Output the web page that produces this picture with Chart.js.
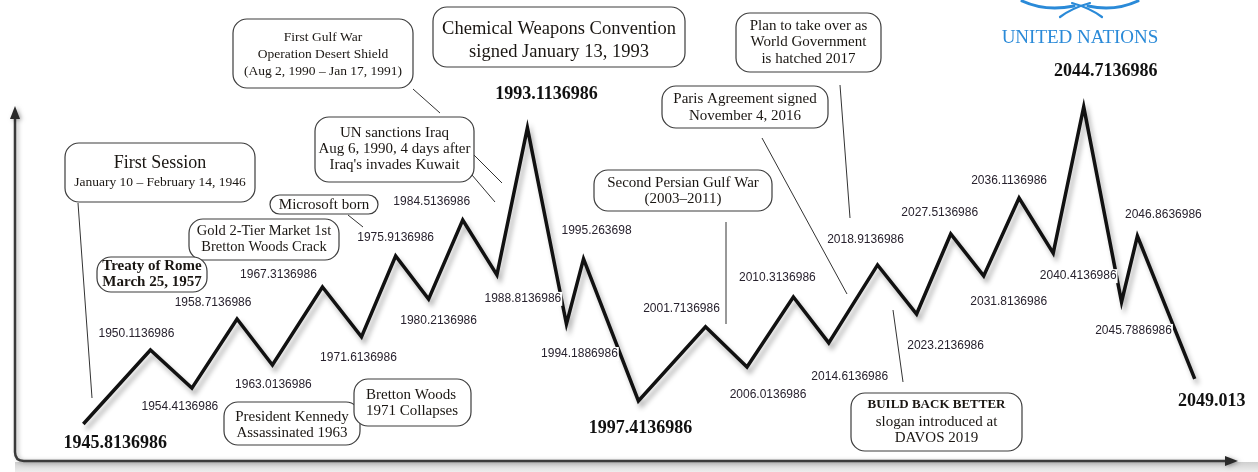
<!DOCTYPE html>
<html lang="en">
  <head>
    <meta charset="UTF-8" />
    <title>UN timeline</title>
    <script src="https://cdn.jsdelivr.net/npm/chart.js"></script>
    <style>
      body {
        margin: 0;
        background: #fff;
      }
    </style>
  </head>
  <body>
    <canvas id="myChart" width="1258" height="472"></canvas>
    <script>
      // turning points of the zigzag, as labelled in the picture
      const years = [
        "1945.8136986", "1950.1136986", "1954.4136986", "1958.7136986", "1963.0136986",
        "1967.3136986", "1971.6136986", "1975.9136986", "1980.2136986", "1984.5136986",
        "1988.8136986", "1993.1136986", "1994.1886986", "1995.263698", "1997.4136986",
        "2001.7136986", "2006.0136986", "2010.3136986", "2014.6136986", "2018.9136986",
        "2023.2136986", "2027.5136986", "2031.8136986", "2036.1136986", "2040.4136986",
        "2044.7136986", "2045.7886986", "2046.8636986", "2049.013"
      ];
      // position along the (unlabelled) time axis, 0-100
      const along = [
        5.6, 11.1, 14.5, 18.2, 21.1, 25.2, 28.4, 31.2, 33.9, 36.7,
        39.5, 42.0, 45.2, 46.6, 51.1, 56.6, 60.0, 63.8, 66.7, 70.7,
        73.9, 76.7, 79.4, 82.3, 85.1, 87.6, 90.7, 92.0, 96.7
      ];
      // height of each turning point, 0-100
      const level = [
        10.1, 30.9, 20.2, 39.6, 26.7, 48.6, 34.6, 57.3, 45.2, 67.4,
        52.0, 93.3, 38.2, 56.5, 16.6, 37.4, 26.1, 45.8, 32.9, 54.8,
        41.0, 63.5, 51.7, 73.6, 58.1, 99.2, 44.4, 62.9, 22.8
      ];
      // which year labels are drawn big and bold
      const bigLabels = [0, 11, 14, 25, 28];

      // label placement relative to its point (layout only)
      const labelOffsets = [
        [32, 19], [-14, -16], [-12, 19], [-24, -16], [1, 20],
        [-44, -12], [-3, 21], [0, -18], [10, 22], [-31, -18],
        [26, 24], [19, -34], [13, 30], [13, -28], [2, 27],
        [-24, -18], [21, 28], [-16, -19], [21, 34], [-12, -25],
        [29, 32], [-11, -21], [25, 26], [-10, -17], [25, 23],
        [22, -36], [12, 29], [26, -21], [17, 23]
      ];

      const serif = "'Liberation Serif', 'Times New Roman', serif";
      const sans = "'Liberation Sans', Arial, sans-serif";

      // callout bubbles: box [x, y, w, h], lines [text, centre y, font]
      const callouts = [
        { box: [65, 143, 190, 59], lines: [["First Session", 163, "18px"], ["January 10 – February 14, 1946", 182, "13.5px"]] },
        { box: [233, 19, 180, 69], lines: [["First Gulf War", 37, "13.5px"], ["Operation Desert Shield", 54, "13.5px"], ["(Aug 2, 1990 – Jan 17, 1991)", 71, "13.5px"]] },
        { box: [433, 7, 252, 60], lines: [["Chemical Weapons Convention", 29, "18.5px"], ["signed January 13, 1993", 52, "18.5px"]] },
        { box: [736, 13, 145, 59], lines: [["Plan to take over as", 26, "15px"], ["World Government", 42, "15px"], ["is hatched 2017", 59, "15px"]] },
        { box: [662, 86, 166, 42], lines: [["Paris Agreement signed", 99, "15px"], ["November 4, 2016", 116, "15px"]] },
        { box: [315, 117, 159, 65], lines: [["UN sanctions Iraq", 133, "15px"], ["Aug 6, 1990, 4 days after", 149, "15px"], ["Iraq's invades Kuwait", 165, "15px"]] },
        { box: [270, 195, 108, 19], lines: [["Microsoft born", 205, "15px"]] },
        { box: [189, 219, 150, 41], lines: [["Gold 2-Tier Market 1st", 231, "14.5px"], ["Bretton Woods Crack", 247, "14.5px"]] },
        { box: [97, 257, 110, 35], lines: [["Treaty of Rome", 266, "bold 15px"], ["March 25, 1957", 282, "bold 15px"]] },
        { box: [594, 170, 178, 41], lines: [["Second Persian Gulf War", 183, "15px"], ["(2003–2011)", 199, "15px"]] },
        { box: [224, 402, 136, 43], lines: [["President Kennedy", 417, "15px"], ["Assassinated 1963", 433, "15px"]] },
        { box: [354, 379, 117, 47], left: 366, lines: [["Bretton Woods", 395, "15px"], ["1971 Collapses", 411, "15px"]] },
        { box: [851, 393, 171, 58], lines: [["BUILD BACK BETTER", 405, "bold 13px"], ["slogan introduced at", 422, "15px"], ["DAVOS 2019", 438, "15px"]] }
      ];

      // thin pointer lines from the bubbles
      const leaders = [
        [78, 203, 92, 398],
        [413, 89, 440, 113],
        [474, 155, 502, 183],
        [472, 175, 495, 202],
        [348, 215, 363, 227],
        [762, 138, 847, 294],
        [840, 85, 850, 218],
        [726, 222, 726, 324],
        [893, 310, 903, 382]
      ];

      const decor = {
        id: "decor",
        beforeDraw(chart) {
          const ctx = chart.ctx;
          ctx.save();
          ctx.fillStyle = "#fff";
          ctx.fillRect(0, 0, chart.width, chart.height);
          ctx.restore();
        },
        beforeDatasetsDraw(chart) {
          const ctx = chart.ctx;
          ctx.save();
          // grey floor under the base line
          const g = ctx.createLinearGradient(0, 462, 0, 472);
          g.addColorStop(0, "#cfcfcf");
          g.addColorStop(1, "#eeeeee");
          ctx.fillStyle = g;
          ctx.fillRect(15, 462, 1243, 10);

          ctx.shadowColor = "rgba(0,0,0,0.3)";
          ctx.shadowBlur = 4;
          ctx.shadowOffsetX = 2;
          ctx.shadowOffsetY = 1;
          ctx.strokeStyle = "#3a3a3a";
          ctx.lineWidth = 2.5;
          ctx.beginPath();
          ctx.moveTo(15, 114);
          ctx.lineTo(15, 452);
          ctx.quadraticCurveTo(15, 461, 24, 461);
          ctx.lineTo(1228, 461);
          ctx.stroke();
          ctx.fillStyle = "#2a2a2a";
          ctx.beginPath();
          ctx.moveTo(15, 106);
          ctx.lineTo(10, 119);
          ctx.lineTo(20, 119);
          ctx.closePath();
          ctx.fill();
          ctx.beginPath();
          ctx.moveTo(1238, 461);
          ctx.lineTo(1225, 456);
          ctx.lineTo(1225, 466);
          ctx.closePath();
          ctx.fill();
          ctx.restore();
        },
        beforeDatasetDraw(chart) {
          const ctx = chart.ctx;
          ctx.save();
          ctx.shadowColor = "rgba(0,0,0,0.3)";
          ctx.shadowBlur = 5;
          ctx.shadowOffsetX = 3;
          ctx.shadowOffsetY = 5;
        },
        afterDatasetDraw(chart) {
          chart.ctx.restore();
        },
        afterDatasetsDraw(chart) {
          const ctx = chart.ctx;
          const pts = chart.getDatasetMeta(0).data;
          ctx.save();
          ctx.textAlign = "center";
          ctx.textBaseline = "middle";

          // year labels
          pts.forEach((p, i) => {
            const x = p.x + labelOffsets[i][0];
            const y = p.y + labelOffsets[i][1];
            if (bigLabels.includes(i)) {
              ctx.font = "bold 18px " + serif;
              ctx.fillStyle = "#111";
              ctx.fillText(years[i], x, y);
            } else {
              ctx.font = "12px " + sans;
              const w = ctx.measureText(years[i]).width;
              ctx.fillStyle = "#fff";
              ctx.fillRect(x - w / 2 - 1, y - 7, w + 2, 14);
              ctx.fillStyle = "#28222e";
              ctx.fillText(years[i], x, y);
            }
          });

          // pointer lines
          ctx.strokeStyle = "#333";
          ctx.lineWidth = 1;
          leaders.forEach(l => {
            ctx.beginPath();
            ctx.moveTo(l[0], l[1]);
            ctx.lineTo(l[2], l[3]);
            ctx.stroke();
          });

          // bubbles
          callouts.forEach(c => {
            const [bx, by, bw, bh] = c.box;
            ctx.fillStyle = "#fff";
            ctx.strokeStyle = "#3c3c3c";
            ctx.lineWidth = 1.2;
            ctx.beginPath();
            ctx.roundRect(bx, by, bw, bh, Math.min(14, bh / 2));
            ctx.fill();
            ctx.stroke();
            ctx.fillStyle = "#1a1612";
            ctx.textAlign = c.left ? "left" : "center";
            const tx = c.left ? c.left : bx + bw / 2;
            c.lines.forEach(([t, y, f]) => {
              ctx.font = f + " " + serif;
              ctx.fillText(t, tx, y);
            });
          });

          // United Nations mark, top right
          ctx.strokeStyle = "#2a8ad8";
          ctx.lineCap = "round";
          ctx.lineWidth = 3;
          ctx.beginPath();
          ctx.moveTo(1022, 1);
          ctx.quadraticCurveTo(1046, 12, 1074, 6);
          ctx.moveTo(1138, 1);
          ctx.quadraticCurveTo(1114, 12, 1088, 6);
          ctx.stroke();
          ctx.lineWidth = 2.2;
          ctx.beginPath();
          ctx.moveTo(1090, 3);
          ctx.quadraticCurveTo(1072, 8, 1060, 17);
          ctx.moveTo(1072, 3);
          ctx.quadraticCurveTo(1090, 8, 1102, 17);
          ctx.stroke();
          ctx.fillStyle = "#2a8ad8";
          ctx.textAlign = "center";
          ctx.font = "19px " + serif;
          ctx.fillText("UNITED NATIONS", 1080, 38);
          ctx.restore();
        }
      };

      const ctx = document.getElementById("myChart").getContext("2d");
      const chart = new Chart(ctx, {
        type: "line",
        data: {
          datasets: [
            {
              data: along.map((x, i) => ({ x: x, y: level[i] })),
              borderColor: "#111",
              borderWidth: 3.5,
              borderJoinStyle: "miter",
              pointRadius: 0,
              tension: 0,
              fill: false,
              clip: false
            }
          ]
        },
        options: {
          responsive: false,
          animation: false,
          layout: { padding: { left: 15, right: 23, top: 104, bottom: 12 } },
          plugins: { legend: { display: false }, tooltip: { enabled: false } },
          scales: {
            x: { type: "linear", min: 0, max: 100, display: false },
            y: { min: 0, max: 100, display: false }
          }
        },
        plugins: [decor]
      });
    </script>
  </body>
</html>
